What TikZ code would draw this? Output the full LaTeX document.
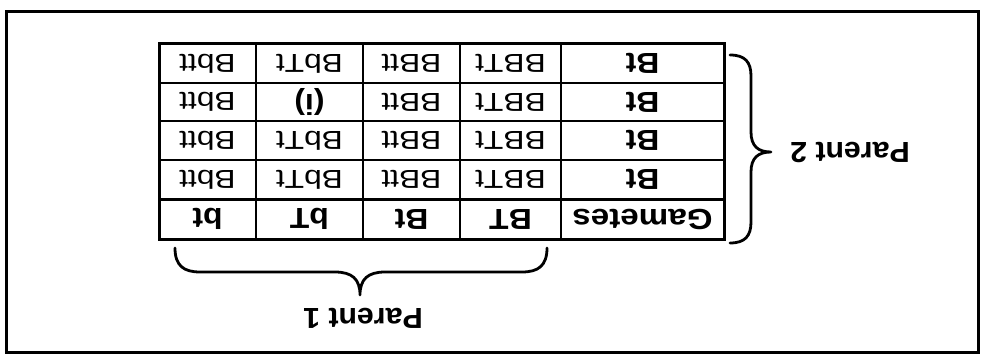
\documentclass[tikz,border=0pt]{standalone}
\usepackage{fontspec}
\setmainfont{Liberation Sans}
\begin{document}
\begin{tikzpicture}[x=1pt,y=-1pt,
  thick line/.style={line width=3pt},
  thin line/.style={line width=2pt},
  boldcell/.style={font=\fontsize{29}{33}\selectfont\bfseries, rotate=180, xscale=1.1, inner sep=0pt},
  cell/.style={font=\fontsize{26}{30}\selectfont, rotate=180, xscale=1.22, inner sep=0pt},
  bracepath/.style={line width=2.8pt, line cap=round, line join=round}]
\useasboundingbox (0,0) rectangle (985,361);
% outer frame
\draw[thick line] (6,12) rectangle (978,352);
% table grid
\coordinate (TL) at (159,44);
\coordinate (BR) at (724,239);
\foreach \y in {83,121,160} \draw[thin line] (159,\y) -- (724,\y);
\foreach \x in {256,363,460,561} \draw[thin line] (\x,44) -- (\x,239);
\draw[thick line] (159,199) -- (724,199);
\draw[thick line] (TL) rectangle (BR);
% header row (displayed bottom)
\node[boldcell, xscale=1.04] (h0) at (642.5,219) {Gametes};
\node[boldcell] (h1) at (510.5,219) {BT};
\node[boldcell] (h2) at (411.5,219) {Bt};
\node[boldcell] (h3) at (309.5,219) {bT};
\node[boldcell] (h4) at (207.5,219) {bt};
% data rows
\foreach \y/\n in {179.5/a,140.5/b,102/c,63.5/d}{
  \node[boldcell] (\n0) at (642.5,\y) {Bt};
  \node[cell] (\n1) at (510.5,\y) {BBTt};
  \node[cell] (\n2) at (411.5,\y) {BBtt};
  \node[cell] (\n4) at (207.5,\y) {Bbtt};
}
\node[cell] (a3) at (309.5,179.5) {BbTt};
\node[cell] (b3) at (309.5,140.5) {BbTt};
\node[boldcell] (c3) at (309.5,102) {(i)};
\node[cell] (d3) at (309.5,63.5) {BbTt};
% Parent 1 brace
\draw[bracepath] (175,248) .. controls (175,266) and (184,272) .. (200,272) -- (335,272)
  .. controls (352,272) and (360,279) .. (360,295) .. controls (360,279) and (368,272) .. (385,272)
  -- (522,272) .. controls (538,272) and (547,266) .. (547,248);
\node[boldcell, xscale=0.95] (p1) at (363,318) {Parent 1};
% Parent 2 brace
\draw[bracepath] (730,55) .. controls (745,55) and (751,62) .. (751,76) -- (751,132)
  .. controls (751,146) and (758,152) .. (771,152) .. controls (758,152) and (751,158) .. (751,172)
  -- (751,222) .. controls (751,236) and (745,243) .. (730,243);
\node[boldcell, xscale=0.95] (p2) at (850,152) {Parent 2};
\end{tikzpicture}
\end{document}
